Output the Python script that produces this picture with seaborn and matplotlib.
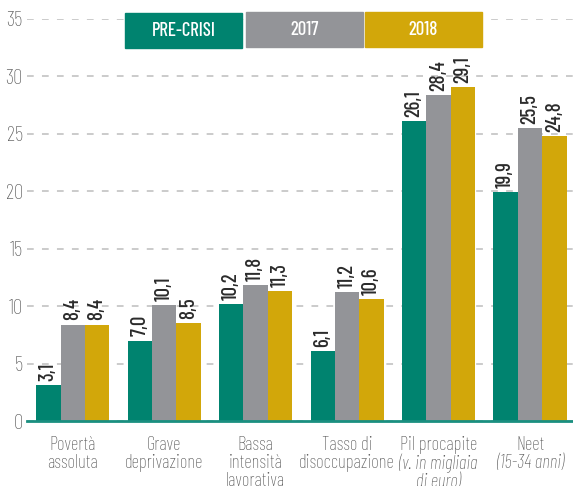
import matplotlib
matplotlib.use("Agg")
import matplotlib.pyplot as plt
import matplotlib.patches as mpatches
import matplotlib.transforms as mtransforms
import numpy as np
import pandas as pd
import seaborn as sns

# data
categories = ["Povertà assoluta", "Grave deprivazione", "Bassa intensità lavorativa",
              "Tasso di disoccupazione", "Pil procapite", "Neet"]
label_plain = ["Povertà\nassoluta", "Grave\ndeprivazione", "Bassa\nintensità\nlavorativa",
               "Tasso di\ndisoccupazione", "Pil procapite", "Neet"]
label_italic = ["", "", "", "", "(v. in migliaia\ndi euro)", "(15-34 anni)"]
periods = ["PRE-CRISI", "2017", "2018"]
pre_crisi = [3.1, 7.0, 10.2, 6.1, 26.1, 19.9]
y2017 = [8.4, 10.1, 11.8, 11.2, 28.4, 25.5]
y2018 = [8.4, 8.5, 11.3, 10.6, 29.1, 24.8]
colors = ["#00836f", "#939498", "#d2a70a"]

df = pd.DataFrame({
    "categoria": categories * 3,
    "periodo": [p for p in periods for _ in categories],
    "valore": pre_crisi + y2017 + y2018,
})

sns.set_style("white")
plt.rcParams["font.family"] = ["Barlow Condensed", "Roboto Condensed", "DejaVu Sans"]

fig = plt.figure(figsize=(5.73, 4.86), dpi=100)
ax = fig.add_axes([27 / 573, 65 / 486, 1 - 27 / 573, (421 - 19) / 486])

sns.barplot(data=df, x="categoria", y="valore", hue="periodo", hue_order=periods,
            palette=colors, width=0.8, linewidth=0, saturation=1, legend=False, ax=ax)

# value labels on top of bars, italian decimal comma
for cont in ax.containers:
    labs = [f"{b.get_height():.1f}".replace(".", ",") for b in cont]
    ax.bar_label(cont, labels=labs, rotation=90, padding=3, fontsize=15,
                 fontweight="medium", color="#2b2b2b", clip_on=False)

ax.set_ylim(0, 35)
ax.set_xlim(-0.5, 5.47)
ax.set_yticks(np.arange(0, 36, 5))
ax.tick_params(axis="y", length=0, pad=3, labelsize=15, labelcolor="#555555")
for lab in ax.get_yticklabels():
    lab.set_fontweight("light")
ax.set_xticks(range(len(categories)))
ax.set_xticklabels([])
ax.tick_params(axis="x", length=0)
ax.set_xlabel("")
ax.set_ylabel("")
ax.yaxis.grid(True, linestyle=(0, (4.4, 5.4)), color="#bdbdbd", linewidth=1.1)
ax.set_axisbelow(True)
for s in ["top", "right", "left"]:
    ax.spines[s].set_visible(False)
ax.spines["bottom"].set_color("#1a8f80")
ax.spines["bottom"].set_linewidth(2)

# category labels, plain part then italic part
trans = mtransforms.blended_transform_factory(ax.transData, ax.transAxes)
for i, (lp, li) in enumerate(zip(label_plain, label_italic)):
    ax.text(i, -0.037, lp, transform=trans, ha="center", va="top", fontweight="light",
            fontsize=13.5, color="#555555", linespacing=1.0, clip_on=False)
    if li:
        n = lp.count("\n") + 1
        off = mtransforms.offset_copy(trans, fig=fig, y=-18 * n, units="dots")
        ax.text(i, -0.037, li, transform=off, ha="center", va="top", style="italic",
                fontweight="light", fontsize=13.5, color="#555555", linespacing=1.0,
                clip_on=False)

# legend as coloured boxes at the top
boxes = [(125, 13), (246, 12), (365, 12)]
for (bx, by), lab, c in zip(boxes, periods, colors):
    fig.add_artist(mpatches.Rectangle((bx / 573, 1 - (by + 35) / 486), 117 / 573, 35 / 486,
                                      transform=fig.transFigure, color=c, zorder=5))
    fig.text((bx + 58.5) / 573, 1 - (by + 18) / 486, lab, ha="center", va="center",
             color="white", fontsize=13.5, fontweight="medium", zorder=6)

fig.savefig("out.png", dpi=100)
